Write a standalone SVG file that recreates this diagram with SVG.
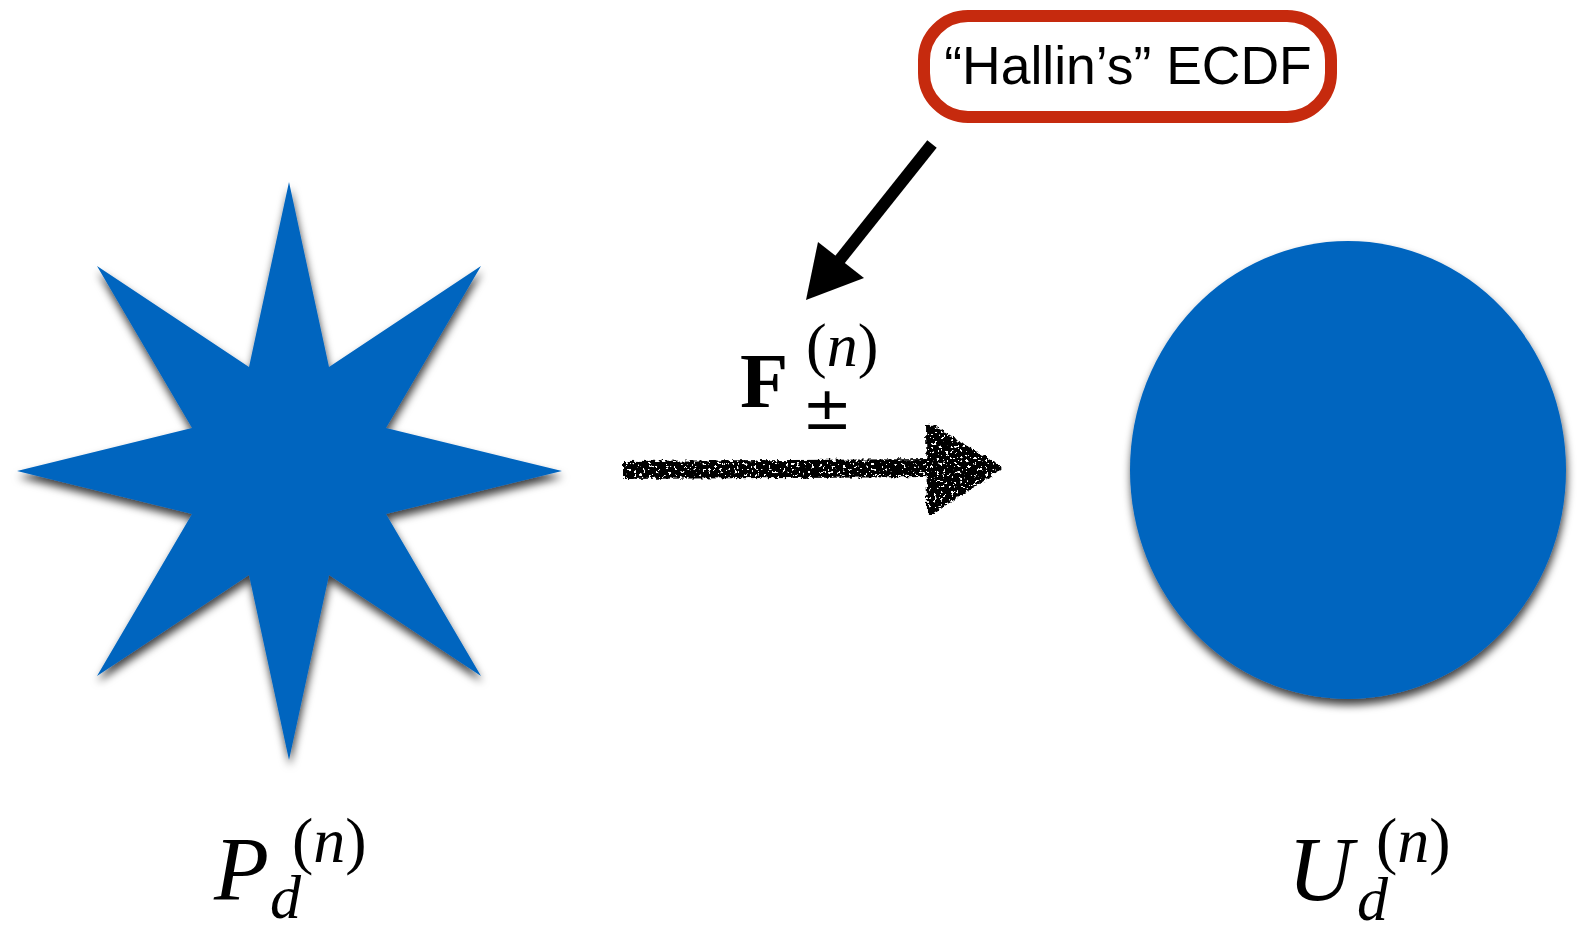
<svg xmlns="http://www.w3.org/2000/svg" width="1577" height="931" viewBox="0 0 1577 931">
<style>
.shape{fill:#0565BF;filter:url(#shadow)}
.math{font-family:"Liberation Serif","DejaVu Serif",serif;fill:#000}
.it{font-style:italic}
.lbl{font-family:"Liberation Sans",Arial,sans-serif;fill:#000}
</style>
<defs>
<filter id="shadow" x="-10%" y="-10%" width="120%" height="125%">
<feDropShadow dx="1" dy="6" stdDeviation="4.5" flood-color="#000" flood-opacity="0.75"/>
</filter>
<filter id="rough" x="-5%" y="-30%" width="110%" height="160%">
<feTurbulence type="fractalNoise" baseFrequency="0.25" numOctaves="2" seed="3" result="noise"/>
<feDisplacementMap in="SourceGraphic" in2="noise" scale="6" xChannelSelector="R" yChannelSelector="G" result="disp"/>
<feTurbulence type="fractalNoise" baseFrequency="0.35" numOctaves="2" seed="7" result="n2"/>
<feColorMatrix in="n2" type="matrix" values="0 0 0 0 0  0 0 0 0 0  0 0 0 0 0  0 0 0 -30 20" result="holes"/>
<feComposite in="disp" in2="holes" operator="in"/>
</filter>
</defs>
<rect width="1577" height="931" fill="#fff"/>

<g id="star">
<polygon class="shape" points="289,182 329,367 481,266 386,428 562,471 386,514 481,676 329,575 289,760 249,575 97,676 192,514 17,471 192,428 97,266 249,367"/>
</g>

<g id="disk">
<ellipse class="shape" cx="1348" cy="470" rx="218" ry="229"/>
</g>

<g id="ecdf-box">
<rect x="924" y="16" width="407" height="101" rx="44" ry="44" fill="#fff" stroke="#C62A0E" stroke-width="12"/>
<text class="lbl" x="1128" y="84" font-size="53.5" text-anchor="middle">“Hallin’s” ECDF</text>
</g>

<g id="connectors">
<line x1="932" y1="144" x2="838" y2="262" stroke="#000" stroke-width="12"/>
<polygon points="806,300 818,242 864,278" fill="#000"/>
<g filter="url(#rough)">
<path d="M623,461 L935,459 L935,477 L623,479 Z" fill="#000"/>
<path d="M926,424 Q930,423 935,426 L998,464 Q1003,468 998,472 L935,512 Q929,517 927,512 Z" fill="#000"/>
</g>
</g>

<g id="label-F">
<text class="math" x="740" y="407" font-size="79" font-weight="bold">F</text>
<text class="math" x="806" y="366" font-size="62">(<tspan class="it">n</tspan>)</text>
<text x="802" y="429" font-size="60" font-family="DejaVu Serif,serif">±</text>
</g>

<g id="label-P">
<text class="math it" x="214" y="900" font-size="90">P</text>
<text class="math it" x="270" y="918" font-size="62">d</text>
<text class="math" x="292" y="862" font-size="64">(<tspan class="it">n</tspan>)</text>
</g>

<g id="label-U">
<text class="math it" x="1288" y="900" font-size="90">U</text>
<text class="math it" x="1357" y="920" font-size="62">d</text>
<text class="math" x="1376" y="862" font-size="64">(<tspan class="it">n</tspan>)</text>
</g>
</svg>
